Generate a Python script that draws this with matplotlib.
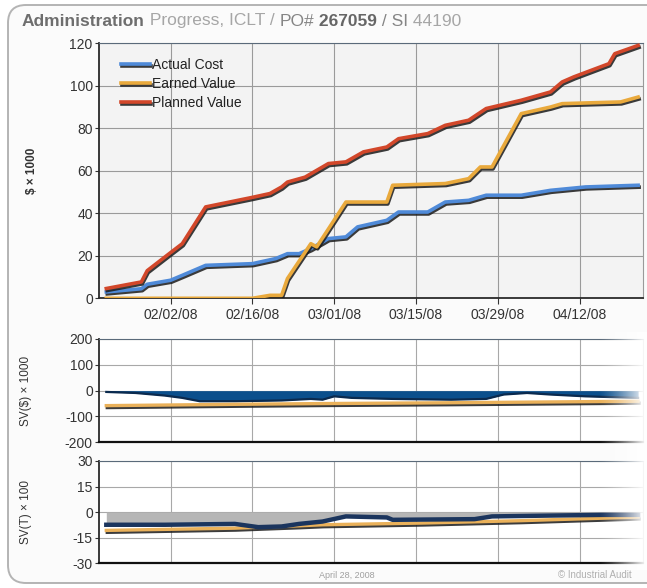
import numpy as np
import pandas as pd
import matplotlib
matplotlib.use('Agg')
import matplotlib.pyplot as plt
import matplotlib.dates as mdates
import matplotlib.patheffects as pe
from matplotlib.patches import FancyBboxPatch

plt.rcParams['font.family'] = ['Liberation Sans', 'DejaVu Sans']
plt.rcParams['axes.unicode_minus'] = False

# --- data ($ x 1000) ---
pv_dates = ['2008-01-22', '2008-01-28', '2008-01-29', '2008-02-02', '2008-02-04', '2008-02-08',
            '2008-02-16', '2008-02-19', '2008-02-21', '2008-02-22', '2008-02-25', '2008-02-28',
            '2008-02-29', '2008-03-03', '2008-03-06', '2008-03-10', '2008-03-12', '2008-03-17',
            '2008-03-20', '2008-03-24', '2008-03-27', '2008-04-02', '2008-04-07', '2008-04-09',
            '2008-04-11', '2008-04-17', '2008-04-18', '2008-04-22']
pv_values = [4.6, 7.7, 13.0, 21.5, 25.7, 43.0,
             47.5, 49.3, 52.4, 54.7, 57.0, 61.8,
             63.4, 64.2, 68.9, 71.2, 75.1, 77.5,
             81.4, 83.8, 89.3, 93.2, 97.1, 101.8,
             104.2, 110.4, 115.1, 119.0]

ac_dates = ['2008-01-22', '2008-01-28', '2008-01-29', '2008-02-02', '2008-02-04', '2008-02-08',
            '2008-02-16', '2008-02-20', '2008-02-22', '2008-02-24', '2008-02-26', '2008-02-28',
            '2008-02-29', '2008-03-03', '2008-03-05', '2008-03-10', '2008-03-12', '2008-03-17',
            '2008-03-20', '2008-03-24', '2008-03-27', '2008-04-02', '2008-04-07', '2008-04-13',
            '2008-04-22']
ac_values = [3.0, 4.5, 6.6, 8.5, 10.8, 15.5,
             16.3, 18.7, 21.0, 21.0, 23.4, 26.5,
             28.1, 28.9, 33.6, 36.7, 40.6, 40.6,
             45.3, 46.1, 48.5, 48.5, 50.8, 52.4,
             53.2]

ev_dates = ['2008-01-22', '2008-02-16', '2008-02-19', '2008-02-21', '2008-02-22', '2008-02-26',
            '2008-02-27', '2008-02-29', '2008-03-03', '2008-03-10', '2008-03-11', '2008-03-20',
            '2008-03-24', '2008-03-26', '2008-03-28', '2008-04-02', '2008-04-07', '2008-04-09',
            '2008-04-19', '2008-04-22']
ev_values = [0.0, 0.0, 1.4, 1.4, 9.3, 25.7,
             24.2, 32.6, 45.3, 45.3, 53.2, 54.0,
             56.3, 61.8, 61.8, 86.9, 90.0, 91.6,
             92.4, 94.7]

# schedule variance, $ x 1000
svd_dates = ['2008-01-22', '2008-01-27', '2008-02-01', '2008-02-04', '2008-02-07', '2008-02-13',
             '2008-02-21', '2008-02-26', '2008-02-28', '2008-03-01', '2008-03-04', '2008-03-11',
             '2008-03-21', '2008-03-27', '2008-03-30', '2008-04-03', '2008-04-07', '2008-04-13',
             '2008-04-22']
svd_values = [-5, -9, -19, -28, -41, -41,
              -38, -32, -35, -22, -28, -32,
              -35, -32, -15, -9, -15, -22,
              -28]
svd_ref_dates = ['2008-01-22', '2008-02-13', '2008-02-28', '2008-03-20', '2008-04-22']
svd_ref_values = [-58, -53, -50, -47, -41]

# schedule variance, time x 100
svt_dates = ['2008-01-22', '2008-02-01', '2008-02-13', '2008-02-17', '2008-02-21', '2008-02-24',
             '2008-02-28', '2008-03-03', '2008-03-10', '2008-03-11', '2008-03-25', '2008-03-28',
             '2008-04-07', '2008-04-16', '2008-04-22']
svt_values = [-7.4, -7.4, -6.9, -8.8, -8.4, -6.9,
              -5.5, -2.5, -3.1, -4.5, -4.1, -2.5,
              -2.0, -1.6, -1.6]
svt_ref_dates = ['2008-01-22', '2008-02-13', '2008-02-24', '2008-02-28', '2008-03-16', '2008-04-02',
                 '2008-04-22']
svt_ref_values = [-10.7, -9.4, -8.0, -7.4, -6.4, -5.0, -2.9]

tick_dates = ['2008-02-02', '2008-02-16', '2008-03-01', '2008-03-15', '2008-03-29', '2008-04-12']
x_range = ['2008-01-20 18:00', '2008-04-22 20:00']

title_parts = [('Administration', 'bold', '#6e6e6e'),
               (' Progress, ICLT / ', 'normal', '#a6a6a6'),
               ('PO#', 'normal', '#858585'),
               (' 267059', 'bold', '#666666'),
               (' / SI', 'normal', '#858585'),
               (' 44190', 'normal', '#a6a6a6')]


def d(lst):
    return pd.to_datetime(lst)


W, H = 647, 588
fig = plt.figure(figsize=(W / 100, H / 100), dpi=100)
fig.patch.set_facecolor('white')

# rounded outer frame
frame = FancyBboxPatch((0.08, 0.05), 7.5, 5.78, boxstyle='round,pad=0,rounding_size=0.18',
                       transform=fig.dpi_scale_trans, facecolor='#fbfbfb', edgecolor='#b4b4b4',
                       linewidth=1.4, zorder=-5)
fig.patches.append(frame)


def px_axes(left, top, right, bottom):
    return fig.add_axes([left / W, 1 - bottom / H, (right - left) / W, (bottom - top) / H])


ax = px_axes(99, 43.3, 643, 298.3)
ax2 = px_axes(99, 339, 643, 442.3)
ax3 = px_axes(99, 461, 643, 563.3)

BLUE = '#4f8ad8'
ORANGE = '#e9a93c'
RED = '#d2472a'


def shadow_line(a, x, y, color, label=None, lw=2.6):
    return a.plot(x, y, color=color, lw=lw, label=label, solid_joinstyle='round', zorder=4,
                  path_effects=[pe.SimpleLineShadow(offset=(0.7, -1.4), shadow_color='#1a1a1a', alpha=0.85),
                                pe.Normal()])[0]


shadow_line(ax, d(ac_dates), ac_values, BLUE, 'Actual Cost')
shadow_line(ax, d(ev_dates), ev_values, ORANGE, 'Earned Value')
shadow_line(ax, d(pv_dates), pv_values, RED, 'Planned Value')

ax.set_ylim(0, 120)
ax.set_yticks(np.arange(0, 121, 20))
ax.set_facecolor('#f3f3f3')
ax.set_ylabel('$ \u00d7 1000', fontsize=8.5, fontweight='bold', color='#333333')
ax.yaxis.set_label_coords(-0.113, 0.5)
leg = ax.legend(loc='upper left', frameon=False, fontsize=10, handlelength=2.1, handletextpad=0.15,
                labelspacing=0.38, borderaxespad=0.0, bbox_to_anchor=(0.03, 0.965))
for t in leg.get_texts():
    t.set_color('#222222')

ax2.fill_between(d(svd_dates), 0, svd_values, color='#0b4f8c', lw=0, zorder=3)
ax2.plot(d(svd_dates), svd_values, color='#0b2a4e', lw=1.6, zorder=3)
shadow_line(ax2, d(svd_ref_dates), svd_ref_values, '#eab15a', lw=2.4)
ax2.set_ylim(-200, 200)
ax2.set_yticks(np.arange(-200, 201, 100))
ax2.set_ylabel('SV(\\$) \u00d7 1000', fontsize=8.5, color='#333333')
ax2.yaxis.set_label_coords(-0.124, 0.5)

ax3.fill_between(d(svt_dates), 0, svt_values, color='#b6b6b6', lw=0, zorder=2)
shadow_line(ax3, d(svt_ref_dates), svt_ref_values, '#eab15a', lw=2.4)
ax3.plot(d(svt_dates), svt_values, color='#1b355e', lw=3.2, zorder=5)
ax3.set_ylim(-30, 30)
ax3.set_yticks(np.arange(-30, 31, 15))
ax3.set_ylabel('SV(T) \u00d7 100', fontsize=8.5, color='#333333')
ax3.yaxis.set_label_coords(-0.124, 0.5)

for a in (ax, ax2, ax3):
    a.set_xlim(d(x_range))
    a.set_xticks(d(tick_dates))
    a.xaxis.set_major_formatter(mdates.DateFormatter('%m/%d/%y'))
    a.grid(True, color='#9a9a9a', lw=0.8, zorder=0)
    a.set_axisbelow(True)
    a.tick_params(labelsize=10, colors='#333333', length=3, pad=1.5)
    a.tick_params(axis='x', length=4, pad=3)
    for s in ('left', 'bottom'):
        a.spines[s].set_color('#2a2a2a')
        a.spines[s].set_linewidth(1.3)
    a.spines['top'].set_color('#5a6a7a')
    a.spines['right'].set_color('#9a9a9a')

for a in (ax2, ax3):
    a.tick_params(axis='x', labelbottom=False, length=0)
    a.set_facecolor('white')
    a.grid(True, color='#a8a8a8', lw=0.8)
    a.spines['bottom'].set_linewidth(1.6)
    a.spines['bottom'].set_color('#111111')

# fade the right end of the lower panels
fade = fig.add_axes([598 / W, 1 - 570 / H, 49 / W, (570 - 332) / H])
grad = np.zeros((2, 64, 4))
grad[..., :3] = 1.0
grad[..., 3] = np.linspace(0, 1, 64) ** 1.3
fade.imshow(grad, aspect='auto', extent=(0, 1, 0, 1))
fade.set_axis_off()
fade.set_zorder(10)

# title in pieces
renderer = fig.canvas.get_renderer()
x = 22 / W
for txt, weight, col in title_parts:
    t = fig.text(x, 1 - 21 / H, txt, fontsize=12.5, fontweight=weight, color=col, va='center', ha='left')
    bb = t.get_window_extent(renderer)
    x = bb.x1 / W

fig.text(347 / W, 1 - 575 / H, 'April 28, 2008', fontsize=6.5, color='#a0a0a0', ha='center', va='center')
fig.text(558 / W, 1 - 575 / H, '\u00a9 Industrial Audit', fontsize=7, color='#b0b0b0',
         ha='left', va='center')

fig.savefig('out.png', dpi=100)
